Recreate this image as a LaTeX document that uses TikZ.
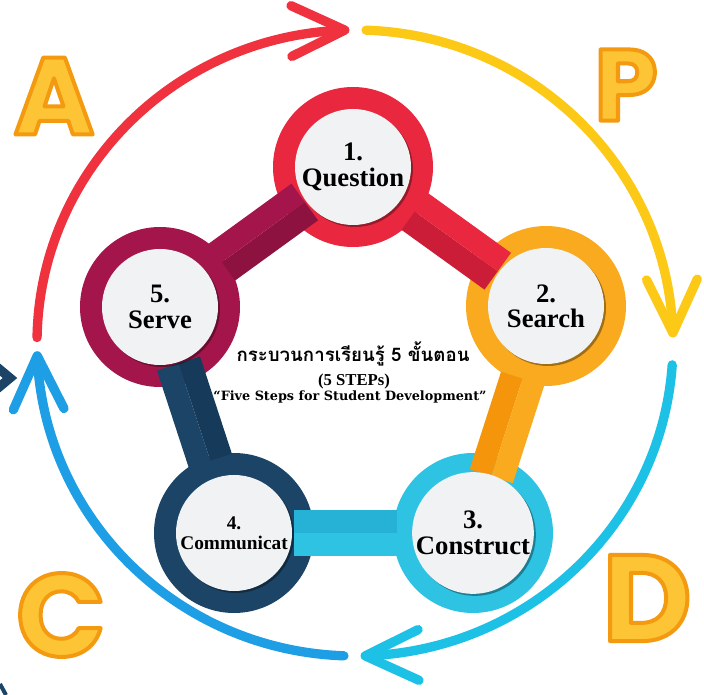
\documentclass[tikz,border=0pt]{standalone}
\usepackage{fontspec}
\setmainfont{Liberation Serif}
\newfontfamily\thaifont[Script=Thai]{Loma}
\newfontfamily\letterfont{Poppins}
\newfontfamily\widefont{DejaVu Serif}
\usetikzlibrary{arrows.meta,bending,calc,shadows}

\definecolor{arcred}{HTML}{F0313E}
\definecolor{arcyellow}{HTML}{FCC916}
\definecolor{arccyan}{HTML}{1DC1E6}
\definecolor{arcblue}{HTML}{1E9EE4}
\definecolor{qred}{HTML}{E9283F}
\definecolor{qreddark}{HTML}{CC1D38}
\definecolor{sorange}{HTML}{F9AA1E}
\definecolor{sorangedark}{HTML}{F4950C}
\definecolor{ccyan}{HTML}{2EC3E2}
\definecolor{ccyandark}{HTML}{26B2D6}
\definecolor{mnavy}{HTML}{1B4466}
\definecolor{mnavydark}{HTML}{163A59}
\definecolor{vmaroon}{HTML}{A4164B}
\definecolor{vmaroondark}{HTML}{8E1240}
\definecolor{facegray}{HTML}{F1F2F4}
\definecolor{letteryellow}{HTML}{FDC536}
\definecolor{letterorange}{HTML}{F39A10}

% two tone bar from ring #1 towards ring #2
\newcommand{\linkbar}[4]{%
  \coordinate (bs) at ($(#1)!0.32!(#2)$);
  \coordinate (be) at ($(#1)!0.75!(#2)$);
  \fill[#4] (bs) -- ($(bs)!17pt!90:(be)$) -- ($(be)!17pt!-90:(bs)$) -- (be) -- cycle;
  \fill[#3] (bs) -- ($(bs)!17pt!-90:(be)$) -- ($(be)!17pt!90:(bs)$) -- (be) -- cycle;
}
% yellow letter with an orange rim
\newcommand{\bubble}[1]{\textcolor{letteryellow}{\special{pdf:literal direct 2 Tr 3 w 1 j 0.953 0.604 0.063 RG}#1\special{pdf:literal direct 0 Tr}}}

\begin{document}
\begin{tikzpicture}[x=0.75pt,y=0.75pt,yscale=-1,xscale=1,
    outerarc/.style={line width=7pt,line cap=round,
      -{Straight Barb[length=40pt,width=38pt,line width=7pt,round]}},
    ring/.style={circle,minimum size=120pt,inner sep=0pt},
    face/.style={circle,fill=facegray,minimum size=87pt,inner sep=0pt,align=center,
      drop shadow={shadow xshift=1.5pt,shadow yshift=-1.5pt,opacity=0.35,fill=black}},
    facefont/.style={font=\bfseries\fontsize{20}{19}\selectfont},
    bigletter/.style={inner sep=0pt,font=\letterfont\bfseries\fontsize{#1}{#1}\selectfont}]
    \useasboundingbox (0,0) rectangle (704,695);
    \clip (0,0) rectangle (704,695);

    %Outer arcs
    \draw[outerarc,arcred] (355,343) ++(181:318 and 313) arc[start angle=181,end angle=269,x radius=318,y radius=313];
    \draw[outerarc,arcyellow] (355,343) ++(272:318 and 313) arc[start angle=272,end angle=359,x radius=318,y radius=313];
    \draw[outerarc,arccyan] (355,343) ++(4:318 and 313) arc[start angle=4,end angle=89,x radius=318,y radius=313];
    \draw[outerarc,arcblue] (355,343) ++(92:318 and 313) arc[start angle=92,end angle=178.5,x radius=318,y radius=313];

    %Edge marks
    \draw[mnavy,line width=7pt] (-14,358) -- (10,378) -- (-14,398);
    \draw[mnavy,line width=3pt] (0,684) -- (6,695);

    %Letters
    \node[bigletter=82] (a) at (54,96) {\bubble{A}};
    \node[bigletter=76] (p) at (626,85) {\bubble{P}};
    \node[bigletter=88] (c) at (61,615) {\bubble{C}};
    \node[bigletter=92] (d) at (647,598) {\bubble{D}};

    %Rings
    \node[ring,fill=qred] (r1) at (353,167) {};
    \node[ring,fill=sorange] (r2) at (546,306) {};
    \node[ring,fill=ccyan] (r3) at (473,533) {};
    \node[ring,fill=mnavy] (r4) at (234,533) {};
    \node[ring,fill=vmaroon] (r5) at (160,307) {};

    %Bars
    \linkbar{r1}{r2}{qred}{qreddark}
    \linkbar{r2}{r3}{sorange}{sorangedark}
    \linkbar{r3}{r4}{ccyan}{ccyandark}
    \linkbar{r4}{r5}{mnavy}{mnavydark}
    \linkbar{r5}{r1}{vmaroon}{vmaroondark}

    %Faces
    \node[face,facefont] (q) at (r1) {1.\\Question};
    \node[face,facefont] (s) at (r2) {2.\\Search};
    \node[face,facefont] (co) at (r3) {3.\\Construct};
    \node[face,font=\bfseries\fontsize{14.5}{15}\selectfont] (cm) at (r4) {4.\\Communicat};
    \node[face,facefont] (se) at (r5) {5.\\Serve};

    %Title
    \node[font=\thaifont\bfseries\fontsize{14}{14}\selectfont] (title) at (353,354) {กระบวนการเรียนรู้ 5 ขั้นตอน};
    \node[font=\bfseries\fontsize{12.5}{12.5}\selectfont] (steps) at (354,381) {(5 STEPs)};
    \node[font=\widefont\bfseries\fontsize{9.6}{10}\selectfont] (motto) at (350,397) {“Five Steps for Student Development”};
\end{tikzpicture}
\end{document}
